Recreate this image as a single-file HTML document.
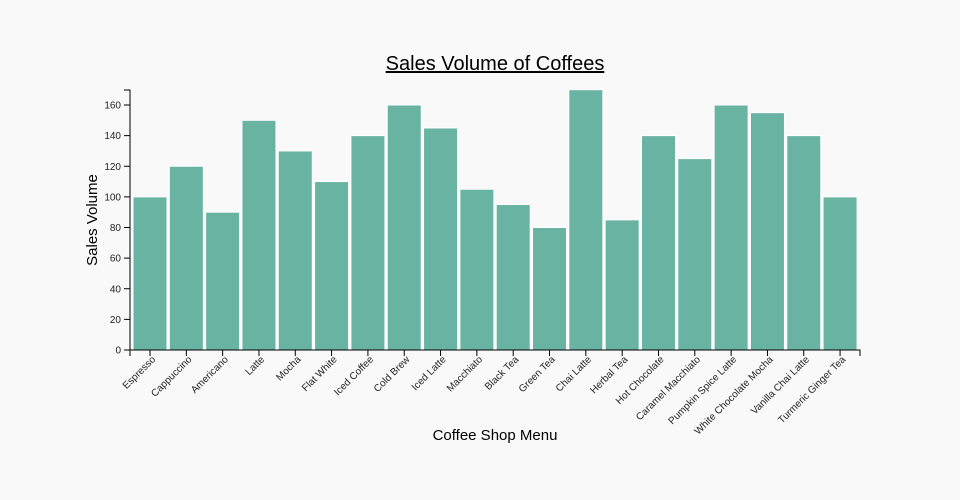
<!DOCTYPE html>
<html><head><meta charset="utf-8"><style>
body{margin:0;background:#f9f9f9;}
svg{display:block;font-family:"Liberation Sans",sans-serif;}
</style></head><body>
<svg width="960" height="500" xmlns="http://www.w3.org/2000/svg">
<rect width="960" height="500" fill="#f9f9f9"/>
<text x="495" y="70" font-size="20" text-anchor="middle" text-decoration="underline" fill="#000">Sales Volume of Coffees</text>
<g id="bars" fill="#69b3a2" stroke="#fff" stroke-width="1"></g>
<g id="axes" stroke="#000" fill="none"></g>
<g id="labels" font-size="10" fill="#222"></g>
<text transform="translate(97,220) rotate(-90)" font-size="15" text-anchor="middle" fill="#000">Sales Volume</text>
<text x="495" y="440" font-size="15" text-anchor="middle" fill="#000">Coffee Shop Menu</text>
<script>
var names=["Espresso","Cappuccino","Americano","Latte","Mocha","Flat White","Iced Coffee","Cold Brew","Iced Latte","Macchiato","Black Tea","Green Tea","Chai Latte","Herbal Tea","Hot Chocolate","Caramel Macchiato","Pumpkin Spice Latte","White Chocolate Mocha","Vanilla Chai Latte","Turmeric Ginger Tea"];
var vals=[100,120,90,150,130,110,140,160,145,105,95,80,170,85,140,125,160,155,140,100];
var NS="http://www.w3.org/2000/svg";
function el(t,a,p,txt){var e=document.createElementNS(NS,t);for(var k in a)e.setAttribute(k,a[k]);if(txt!=null)e.textContent=txt;p.appendChild(e);return e;}
var bars=document.getElementById('bars'),ax=document.getElementById('axes'),lb=document.getElementById('labels');
function y(v){return 350-v*1.53125;}
for(var i=0;i<20;i++){var cx=150+36.32*i;
el('rect',{x:cx-17,y:y(vals[i]),width:34,height:350-y(vals[i])},bars);
el('line',{x1:cx,x2:cx,y1:350,y2:356},ax);
el('text',{transform:'translate('+(cx+6)+',360) rotate(-45)','text-anchor':'end'},lb,names[i]);}
el('path',{d:'M124,90H130V350H860V356M130,356V350'},ax);
for(var v=0;v<=160;v+=20){el('line',{x1:124,x2:130,y1:y(v),y2:y(v)},ax);
el('text',{x:121,y:y(v)+3.5,'text-anchor':'end'},lb,v);}
</script>
</svg>
</body></html>
